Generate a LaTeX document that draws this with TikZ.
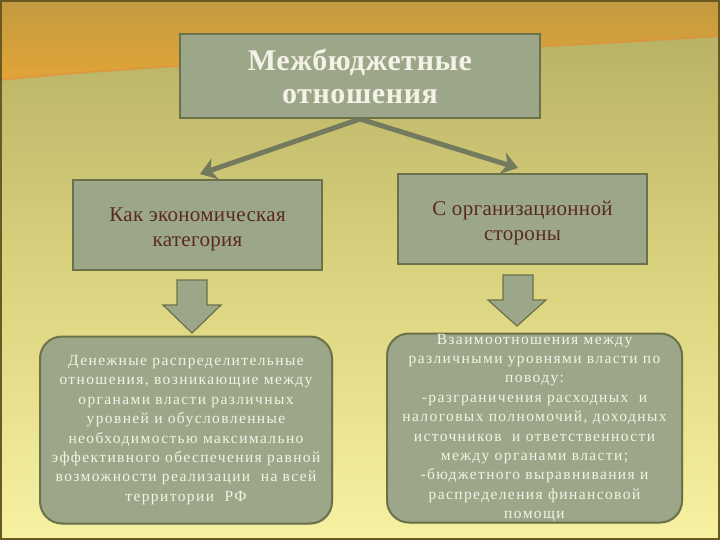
\documentclass[tikz,border=0pt]{standalone}
\usepackage{fontspec}
\setmainfont{Liberation Serif}
\newfontfamily\titlefont[LetterSpace=2]{Liberation Serif}
\newfontfamily\midfont[LetterSpace=1.5]{Liberation Serif}
\newfontfamily\bodyfont[LetterSpace=9]{Liberation Serif}
\usetikzlibrary{arrows.meta,shadows}
\definecolor{boxfill}{HTML}{9CA78A}
\definecolor{boxdraw}{HTML}{6C7149}
\definecolor{arrowcol}{HTML}{737A5E}
\definecolor{midtext}{HTML}{5A2A22}
\definecolor{lighttext}{HTML}{F4F2E6}
\definecolor{bgtop}{HTML}{B4AE62}
\definecolor{bgmid}{HTML}{D9D27E}
\definecolor{bgbot}{HTML}{F7F2A2}
\definecolor{goldtop}{HTML}{C29B40}
\definecolor{orangeband}{HTML}{E2A438}
\definecolor{frame}{HTML}{6A5A22}
\tikzset{
  topbox/.style={draw=boxdraw, line width=2pt, fill=boxfill, minimum width=360pt, minimum height=84pt, inner sep=0pt,
    font=\titlefont\bfseries\fontsize{30}{33}\selectfont, text=lighttext, align=center},
  midbox/.style={draw=boxdraw, line width=2pt, fill=boxfill, inner sep=0pt, minimum width=249pt, minimum height=90pt},
  midlabel/.style={inner sep=0pt, font=\midfont\fontsize{21}{25}\selectfont, text=midtext, align=center},
  bottombox/.style={draw=boxdraw, line width=2pt, fill=boxfill, rounded corners=22pt, inner sep=0pt,
    font=\bodyfont\fontsize{15.5}{19.4}\selectfont, text=lighttext, align=center},
  link/.style={draw=arrowcol, line width=5pt, -{Stealth[length=16pt,width=22pt,inset=5pt]}},
  blockarrow/.style={draw=boxdraw, line width=1.2pt, fill=boxfill}
}
\begin{document}
\begin{tikzpicture}[x=1pt,y=-1pt]
\useasboundingbox (0,0) rectangle (720,540);
% background
\shade[top color=bgtop, bottom color=bgbot, middle color=bgmid] (0,0) rectangle (720,540);
\shade[top color=goldtop, bottom color=orangeband]
  (0,0) -- (720,0) -- (720,36) .. controls (520,50) and (200,60) .. (0,80) -- cycle;
\draw[orangeband!80!red, line width=2pt, opacity=0.4] (720,36) .. controls (520,50) and (200,60) .. (0,80);
\draw[frame, line width=2pt] (1,1) rectangle (719,539);

% boxes
\node[topbox] (top) at (360,76) {Межбюджетные\\отношения};
\node[midbox] (econ) at (197.5,225) {};
\node[midlabel] (econtext) at ([yshift=-4pt]econ.center) {Как экономическая\\категория};
\node[midbox] (org) at (522.5,219) {};
\node[midlabel] (orgtext) at ([yshift=-4pt]org.center) {С организационной\\стороны};
\node[bottombox, minimum width=292pt, minimum height=187pt, drop shadow={shadow xshift=1pt, shadow yshift=-1pt, opacity=0.4}] (left) at (186,430)
  {Денежные распределительные\\отношения, возникающие между\\органами власти различных\\уровней и обусловленные\\необходимостью максимально\\эффективного обеспечения равной\\возможности реализации\ \ на всей\\территории\ \ РФ};
\node[bottombox, minimum width=295pt, minimum height=189pt, drop shadow={shadow xshift=1pt, shadow yshift=-1pt, opacity=0.4}] (right) at (534.5,428)
  {Взаимоотношения между\\различными уровнями власти по\\поводу:\\-разграничения расходных\ \ и\\налоговых полномочий, доходных\\источников\ \ и ответственности\\между органами власти;\\-бюджетного выравнивания и\\распределения финансовой\\помощи};

% connectors
\coordinate (tipL) at (200,174);
\coordinate (tipR) at (518,168);
\draw[link] (top.south) -- (tipL);
\draw[link] (top.south) -- (tipR);

% block arrows
\draw[blockarrow] (177,280) -- (207,280) -- (207,305) -- (221,305) -- (192,333) -- (163,305) -- (177,305) -- cycle;
\draw[blockarrow] (503,275) -- (533,275) -- (533,300) -- (546,300) -- (517,326) -- (488,300) -- (503,300) -- cycle;
\end{tikzpicture}
\end{document}
